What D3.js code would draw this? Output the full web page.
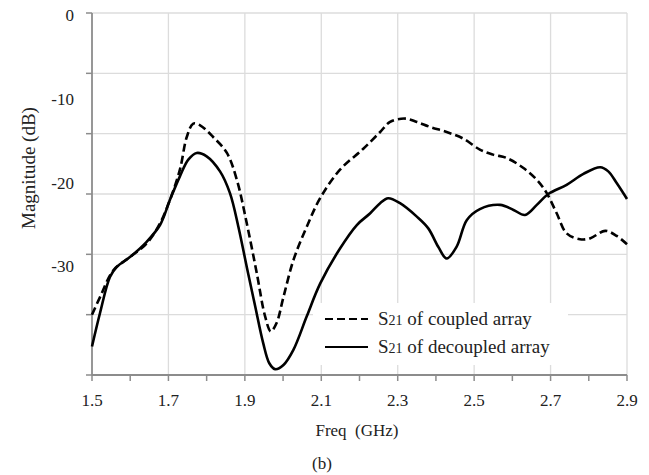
<!DOCTYPE html>
<html>
<head>
<meta charset="utf-8">
<script src="https://cdn.jsdelivr.net/npm/d3@7"></script>
<style>
  body { margin: 0; background: #fff; }
  text { font-family: "Liberation Serif", "Times New Roman", serif; fill: #222; }
</style>
</head>
<body>
<div id="chart"></div>
<script>
// data (freq in GHz, magnitude in dB)
const coupledFreq = [1.5, 1.521, 1.556, 1.6, 1.643, 1.678, 1.704, 1.73, 1.748, 1.765, 1.783, 1.817, 1.853, 1.879, 1.905, 1.931, 1.953, 1.968, 1.983, 2.001, 2.027, 2.062, 2.097, 2.149, 2.21, 2.254, 2.28, 2.319, 2.35, 2.385, 2.428, 2.472, 2.515, 2.55, 2.585, 2.629, 2.664, 2.69, 2.716, 2.742, 2.777, 2.803, 2.843, 2.873, 2.9];
const coupledMag = [-36.0, -33.9, -30.7, -29.1, -27.5, -25.1, -22.3, -18.7, -14.8, -13.2, -13.4, -14.8, -16.7, -19.9, -25.1, -31.0, -36.2, -38.0, -37.0, -33.9, -29.5, -25.5, -22.1, -18.7, -16.2, -14.2, -13.0, -12.6, -13.0, -13.6, -14.2, -15.0, -16.3, -16.9, -17.3, -18.5, -19.9, -21.5, -23.9, -26.3, -27.0, -26.9, -26.0, -26.6, -27.6];

const decoupledFreq = [1.5, 1.521, 1.547, 1.565, 1.6, 1.643, 1.678, 1.704, 1.73, 1.752, 1.774, 1.8, 1.835, 1.861, 1.883, 1.905, 1.927, 1.948, 1.964, 1.979, 2.001, 2.027, 2.062, 2.097, 2.149, 2.193, 2.228, 2.254, 2.275, 2.306, 2.35, 2.38, 2.406, 2.428, 2.454, 2.481, 2.515, 2.568, 2.603, 2.633, 2.664, 2.694, 2.742, 2.786, 2.83, 2.851, 2.873, 2.9];
const decoupledMag = [-39.8, -35.8, -31.5, -30.3, -29.1, -27.3, -25.3, -22.3, -19.5, -17.5, -16.7, -17.1, -18.9, -21.5, -25.5, -30.3, -35.0, -39.4, -41.8, -42.5, -42.0, -40.2, -36.2, -32.3, -28.1, -25.3, -23.9, -22.7, -22.1, -22.7, -24.3, -25.7, -27.9, -29.3, -27.9, -24.7, -23.4, -22.9, -23.5, -24.1, -22.9, -21.6, -20.5, -19.2, -18.4, -18.9, -20.3, -22.2];

const xTickLabels = [1.5, 1.7, 1.9, 2.1, 2.3, 2.5, 2.7, 2.9];
const xMinorTicks = [1.6, 1.8, 2.0, 2.2, 2.4, 2.6, 2.8];
const yTickLabels = [0, -10, -20, -30];
const yGrid = [0, -7.2, -14.4, -21.6, -28.8, -36, -43.2];

const legendNames = ["of coupled array", "of decoupled array"];

const W = 649, H = 475;
const plot = {left: 92, right: 627, top: 13, bottom: 375};

const svg = d3.select("#chart").append("svg")
  .attr("width", W).attr("height", H);

const x = d3.scaleLinear().domain([1.5, 2.9]).range([plot.left, plot.right]);
const y = d3.scaleLinear().domain([-43.2, 0]).range([plot.bottom, plot.top]);

// grid
svg.append("g").selectAll("line").data(yGrid).join("line")
  .attr("x1", plot.left).attr("x2", plot.right)
  .attr("y1", d => y(d)).attr("y2", d => y(d))
  .attr("stroke", "#dcdcdc").attr("stroke-width", 1.3);
svg.append("g").selectAll("line").data(xTickLabels.slice(1)).join("line")
  .attr("x1", d => x(d)).attr("x2", d => x(d))
  .attr("y1", plot.top).attr("y2", plot.bottom)
  .attr("stroke", "#dcdcdc").attr("stroke-width", 1.3);

// y ticks (outside, at gridlines)
svg.append("g").selectAll("line").data(yGrid).join("line")
  .attr("x1", plot.left - 6).attr("x2", plot.left)
  .attr("y1", d => y(d)).attr("y2", d => y(d))
  .attr("stroke", "#8c8c8c").attr("stroke-width", 1.5);

// x axis
svg.append("g").selectAll("line").data(xTickLabels.concat(xMinorTicks)).join("line")
  .attr("x1", d => x(d)).attr("x2", d => x(d))
  .attr("y1", plot.bottom).attr("y2", plot.bottom + 6)
  .attr("stroke", "#8c8c8c").attr("stroke-width", 1.5);

svg.append("line")
  .attr("x1", plot.left).attr("x2", plot.left).attr("y1", plot.top).attr("y2", plot.bottom)
  .attr("stroke", "#8c8c8c").attr("stroke-width", 1.8);
svg.append("line")
  .attr("x1", plot.left).attr("x2", plot.right).attr("y1", plot.bottom).attr("y2", plot.bottom)
  .attr("stroke", "#8c8c8c").attr("stroke-width", 1.8);

svg.append("g").selectAll("text").data(xTickLabels).join("text")
  .attr("x", d => x(d)).attr("y", 406)
  .attr("text-anchor", "middle")
  .style("font-size", "17px")
  .text(d => d.toFixed(1));

svg.append("g").selectAll("text").data(yTickLabels).join("text")
  .attr("x", 74).attr("y", d => y(d) + 8)
  .attr("text-anchor", "end")
  .style("font-size", "17px")
  .text(d => d);

// axis titles
svg.append("text")
  .attr("x", 357).attr("y", 436)
  .attr("text-anchor", "middle")
  .style("font-size", "17px")
  .style("white-space", "pre")
  .text("Freq  (GHz)");

svg.append("text")
  .attr("x", 322).attr("y", 469)
  .attr("text-anchor", "middle")
  .style("font-size", "17px")
  .text("(b)");

svg.append("text")
  .attr("transform", "translate(35,168) rotate(-90)")
  .attr("text-anchor", "middle")
  .style("font-size", "19px")
  .text("Magnitude (dB)");

// legend (box behind curves)
const lg = svg.append("g");
lg.append("rect")
  .attr("x", 313).attr("y", 303).attr("width", 255).attr("height", 62)
  .attr("fill", "#fff");

const rows = lg.selectAll("g").data(legendNames).join("g")
  .attr("transform", (d, i) => `translate(0, ${319 + i * 28})`);
rows.append("line")
  .attr("x1", 325).attr("x2", 368)
  .attr("stroke", "#000").attr("stroke-width", 2)
  .attr("stroke-dasharray", (d, i) => i === 0 ? "8,4" : null);
const lt = rows.append("text")
  .attr("x", 378).attr("y", 6)
  .style("font-size", "19px");
lt.append("tspan").text("S");
lt.append("tspan").style("font-size", "14px").text("21");
lt.append("tspan").text(d => " " + d);

// curves
const line = d3.line()
  .x(d => x(d[0])).y(d => y(d[1]))
  .curve(d3.curveCatmullRom.alpha(0.5));

svg.append("path")
  .datum(d3.zip(coupledFreq, coupledMag))
  .attr("d", line)
  .attr("fill", "none").attr("stroke", "#000")
  .attr("stroke-width", 2.6)
  .attr("stroke-dasharray", "8,4");

svg.append("path")
  .datum(d3.zip(decoupledFreq, decoupledMag))
  .attr("d", line)
  .attr("fill", "none").attr("stroke", "#000")
  .attr("stroke-width", 2.6);
</script>
</body>
</html>
